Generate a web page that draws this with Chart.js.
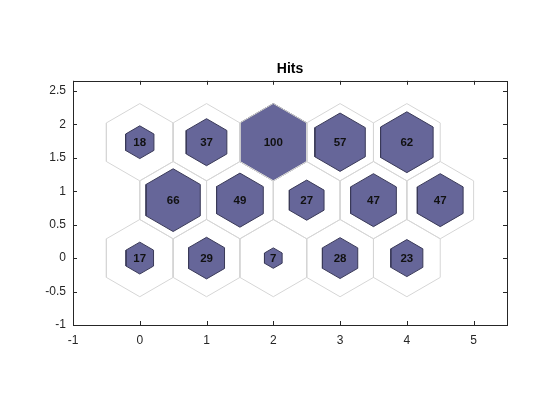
<!DOCTYPE html>
<html>
<head>
  <title>Hits</title>
  <script src="https://cdn.jsdelivr.net/npm/chart.js"></script>
  <style>
    body {
      margin: 0;
      background: #ffffff;
    }
  </style>
</head>
<body>
  <canvas id="chart" width="560" height="420"></canvas>

  <script>
    // SOM hit counts, one list per row of the hex grid (bottom row first)
    var hitsRow0 = [17, 29, 7, 28, 23];
    var hitsRow1 = [66, 49, 27, 47, 47];
    var hitsRow2 = [18, 37, 100, 57, 62];
    var gridCols = [0, 1, 2, 3, 4];
    var xTicks = [-1, 0, 1, 2, 3, 4, 5];
    var yTicks = [-1, -0.5, 0, 0.5, 1, 1.5, 2, 2.5];

    var rows = [hitsRow0, hitsRow1, hitsRow2];
    var maxHits = Math.max.apply(null, hitsRow0.concat(hitsRow1, hitsRow2));
    var R = 1 / Math.sqrt(3);   // circumradius of a cell in hextop layout

    function hexPoints(cx, cy, r) {
      var pts = [];
      for (var k = 0; k <= 6; k++) {
        var a = Math.PI / 6 + k * Math.PI / 3;
        pts.push({ x: cx + r * Math.cos(a), y: cy + r * Math.sin(a) });
      }
      return pts;
    }

    var cells = [];
    rows.forEach(function (row, r) {
      row.forEach(function (h, i) {
        cells.push({ x: gridCols[i] + (r % 2) * 0.5, y: r * Math.sqrt(3) / 2, hits: h });
      });
    });

    var datasets = [];
    cells.forEach(function (c) {
      datasets.push({
        data: hexPoints(c.x, c.y, R),
        showLine: true,
        fill: false,
        borderColor: '#d6d6d6',
        borderWidth: 1,
        pointRadius: 0,
        tension: 0
      });
    });
    cells.forEach(function (c) {
      datasets.push({
        data: hexPoints(c.x, c.y, R * Math.sqrt(c.hits / maxHits)),
        showLine: true,
        fill: 'shape',
        backgroundColor: '#666699',
        borderColor: '#3a3a58',
        borderWidth: 1,
        pointRadius: 0,
        tension: 0
      });
    });

    var axisColor = '#262626';

    var hitLabels = {
      id: 'hitLabels',
      afterDatasetsDraw: function (chart) {
        var ctx = chart.ctx;
        var xs = chart.scales.x, ys = chart.scales.y;
        ctx.save();
        ctx.fillStyle = '#111111';
        ctx.font = 'bold 11.5px "Liberation Sans", Arial, sans-serif';
        ctx.textAlign = 'center';
        ctx.textBaseline = 'middle';
        cells.forEach(function (c) {
          ctx.fillText(String(c.hits), xs.getPixelForValue(c.x), ys.getPixelForValue(c.y) + 1);
        });
        ctx.restore();
      }
    };

    // MATLAB style box with inward ticks on all four sides
    var boxTicks = {
      id: 'boxTicks',
      afterDraw: function (chart) {
        var ctx = chart.ctx, a = chart.chartArea;
        var xs = chart.scales.x, ys = chart.scales.y;
        var len = 4;
        ctx.save();
        ctx.strokeStyle = axisColor;
        ctx.lineWidth = 1;
        ctx.strokeRect(Math.round(a.left) + 0.5, Math.round(a.top) + 0.5,
          Math.round(a.right - a.left), Math.round(a.bottom - a.top));
        ctx.beginPath();
        xTicks.forEach(function (v) {
          var px = Math.round(xs.getPixelForValue(v)) + 0.5;
          ctx.moveTo(px, a.bottom); ctx.lineTo(px, a.bottom - len);
          ctx.moveTo(px, a.top); ctx.lineTo(px, a.top + len);
        });
        yTicks.forEach(function (v) {
          var py = Math.round(ys.getPixelForValue(v)) + 0.5;
          ctx.moveTo(a.left, py); ctx.lineTo(a.left + len, py);
          ctx.moveTo(a.right, py); ctx.lineTo(a.right - len, py);
        });
        ctx.stroke();
        ctx.restore();
      }
    };

    var tickFont = { family: '"Liberation Sans", Arial, sans-serif', size: 12 };

    new Chart(document.getElementById('chart').getContext('2d'), {
      type: 'scatter',
      data: { datasets: datasets },
      plugins: [hitLabels, boxTicks],
      options: {
        responsive: false,
        animation: false,
        layout: { padding: { left: 0, right: 53, top: 0, bottom: 0 } },
        plugins: {
          legend: { display: false },
          tooltip: { enabled: false },
          title: {
            display: true,
            fullSize: false,
            text: 'Hits',
            color: '#000000',
            font: { family: '"Liberation Sans", Arial, sans-serif', size: 14, weight: 'bold' },
            padding: { top: 61, bottom: 3 }
          }
        },
        scales: {
          x: {
            type: 'linear',
            min: -1,
            max: 5.5,
            afterBuildTicks: function (s) { s.ticks = xTicks.map(function (v) { return { value: v }; }); },
            afterFit: function (s) { s.height = 95; },
            grid: { display: false, drawTicks: false },
            border: { display: false },
            ticks: { color: axisColor, font: tickFont, padding: 8, maxRotation: 0,
              callback: function (v) { return String(v); } }
          },
          y: {
            type: 'linear',
            min: -1,
            max: 2.65,
            afterBuildTicks: function (s) { s.ticks = yTicks.map(function (v) { return { value: v }; }); },
            afterFit: function (s) { s.width = 73; },
            grid: { display: false, drawTicks: false },
            border: { display: false },
            ticks: { color: axisColor, font: tickFont, padding: 7,
              callback: function (v) { return String(v); } }
          }
        }
      }
    });
  </script>
</body>
</html>
